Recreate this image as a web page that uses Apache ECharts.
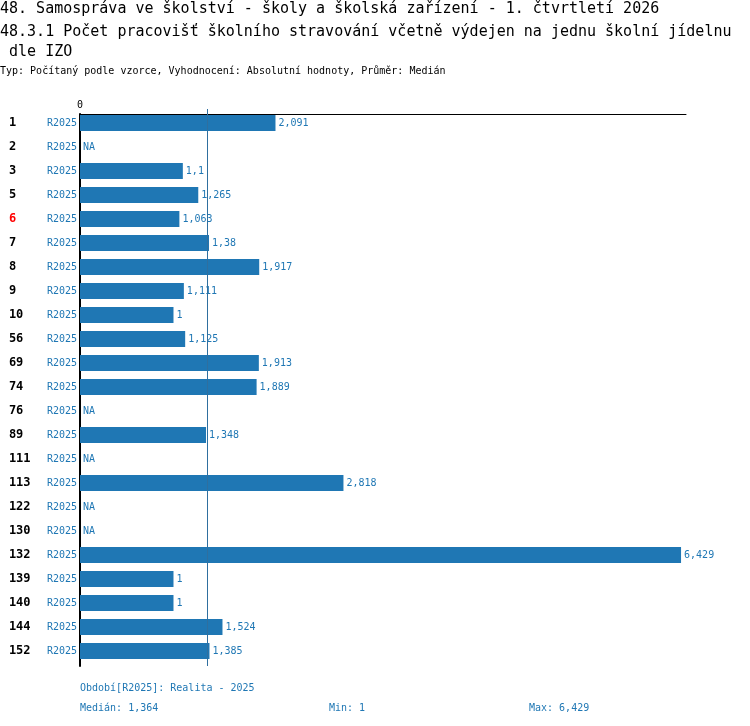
<!DOCTYPE html>
<html>
<head>
<meta charset="utf-8">
<script src="https://cdn.jsdelivr.net/npm/echarts@6/dist/echarts.min.js"></script>
<style>
  html, body { margin: 0; padding: 0; background: #fff; }
  #chart { width: 750px; height: 726px; }
</style>
</head>
<body>
<div id="chart"></div>
<script>
/* ---------- data ---------- */
var categories = ['1', '2', '3', '5', '6', '7', '8', '9', '10', '56', '69', '74', '76', '89',
                  '111', '113', '122', '130', '132', '139', '140', '144', '152'];
var values = [2.091, null, 1.1, 1.265, 1.063, 1.38, 1.917, 1.111, 1, 1.125, 1.913, 1.889, null, 1.348,
              null, 2.818, null, null, 6.429, 1, 1, 1.524, 1.385];
var periodLabel = 'R2025';
var highlighted = '6';
var median = 1.364;
var minValue = 1;
var maxValue = 6.429;
var axisMax = 6.482;

var FONT = 'DejaVu Sans Mono';
var BLUE = '#1f77b4';

function fmt(v) {
    return String(v).replace('.', ',');
}

/* ---------- chart ---------- */
var chart = echarts.init(document.getElementById('chart'), null, { renderer: 'canvas' });

var barData = values.map(function (v) {
    return v === null ? { value: 0, na: true } : { value: v };
});

function titleText(text, left, top, size, color) {
    return {
        text: text, left: left, top: top, padding: 0,
        textStyle: { fontFamily: FONT, fontSize: size, fontWeight: 'normal', color: color, lineHeight: size + 3 }
    };
}

var option = {
    backgroundColor: '#fff',
    animation: false,
    title: [
        titleText('48. Samospráva ve školství - školy a školská zařízení - 1. čtvrtletí 2026', 0, 0, 15, '#000'),
        titleText('48.3.1 Počet pracovišť školního stravování včetně výdejen na jednu školní jídelnu', 0, 23, 15, '#000'),
        titleText(' dle IZO', 0, 43, 15, '#000'),
        titleText('Typ: Počítaný podle vzorce, Vyhodnocení: Absolutní hodnoty, Průměr: Medián', 0, 65, 10, '#000'),
        titleText('Období[' + periodLabel + ']: Realita - 2025', 80, 682, 10, BLUE),
        titleText('Medián: ' + fmt(median), 80, 702, 10, BLUE),
        titleText('Min: ' + fmt(minValue), 329, 702, 10, BLUE),
        titleText('Max: ' + fmt(maxValue), 529, 702, 10, BLUE)
    ],
    grid: [
        // bars + row labels
        { left: 80, right: 64, top: 111, height: 552, containLabel: false },
        // axis lines + median
        { left: 80, right: 64, top: 114, height: 552, containLabel: false }
    ],
    xAxis: [
        { gridIndex: 0, type: 'value', min: 0, max: axisMax, show: false },
        {
            gridIndex: 1, type: 'value', min: 0, max: axisMax, position: 'top',
            axisLine: { show: true, lineStyle: { color: '#000', width: 1 } },
            axisTick: { show: true, customValues: [median], length: 5, lineStyle: { color: '#2f6f9f' } },
            axisLabel: {
                show: true, customValues: [0], margin: 4,
                fontFamily: FONT, fontSize: 10, color: '#000',
                formatter: function (v) { return v === 0 ? '0' : ''; }
            },
            splitLine: { show: false }
        }
    ],
    yAxis: [
        {
            gridIndex: 0, type: 'category', data: categories, inverse: true,
            axisLine: { show: false }, axisTick: { show: false },
            axisLabel: {
                margin: 3,
                formatter: function (c) {
                    return (c === highlighted ? '{h|' : '{n|') + c + '}{r|' + periodLabel + '}';
                },
                rich: {
                    n: { fontFamily: FONT, fontSize: 12, fontWeight: 'bold', color: '#000', width: 38, align: 'left' },
                    h: { fontFamily: FONT, fontSize: 12, fontWeight: 'bold', color: '#ff0000', width: 38, align: 'left' },
                    r: { fontFamily: FONT, fontSize: 10, color: BLUE }
                }
            }
        },
        {
            gridIndex: 1, type: 'category', data: categories, inverse: true,
            axisLine: { show: true, lineStyle: { color: '#000', width: 2 } },
            axisTick: { show: false }, axisLabel: { show: false }
        }
    ],
    series: [
        {
            type: 'bar', xAxisIndex: 0, yAxisIndex: 0,
            data: barData, barWidth: 16,
            itemStyle: { color: BLUE },
            label: {
                show: true, position: 'right', distance: 3,
                fontFamily: FONT, fontSize: 10, color: BLUE,
                formatter: function (p) { return p.data.na ? 'NA' : fmt(p.value); }
            }
        },
        {
            type: 'bar', xAxisIndex: 1, yAxisIndex: 1, data: [],
            markLine: {
                silent: true, symbol: 'none', label: { show: false },
                lineStyle: { color: '#2f6f9f', width: 1, type: 'solid' },
                data: [{ xAxis: median }]
            }
        }
    ]
};

chart.setOption(option);
</script>
</body>
</html>
